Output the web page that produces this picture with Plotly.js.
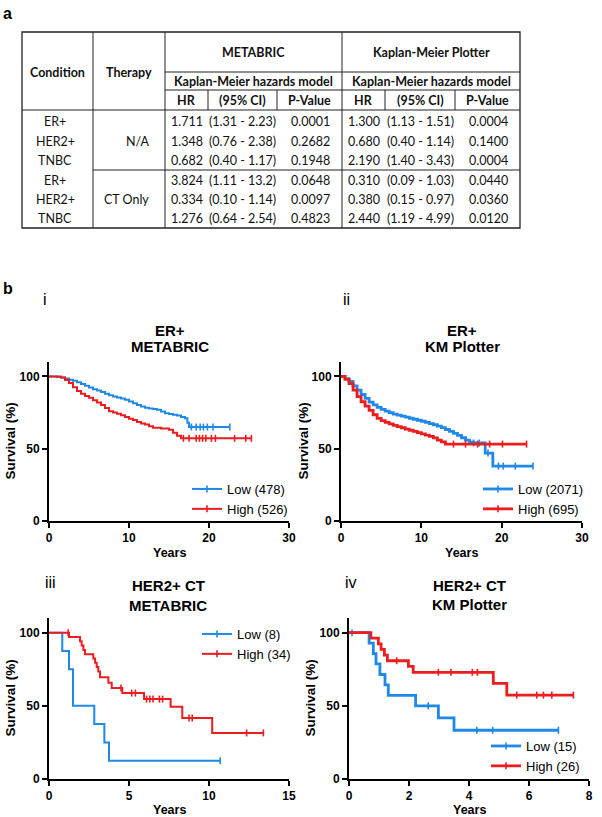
<!DOCTYPE html>
<html>
<head>
<meta charset="utf-8">
<script src="https://cdn.plot.ly/plotly-3.0.1.min.js"></script>
<style>html,body{margin:0;padding:0;background:#fff;}#chart{width:602px;height:817px;}</style>
</head>
<body>
<div id="chart"></div>
<script>
// ---------------- TABLE DATA ----------------
const tableConditions = ["ER+", "HER2+", "TNBC", "ER+", "HER2+", "TNBC"];
const tableTherapies = ["N/A", "CT Only"];
const metabricHR = ["1.711", "1.348", "0.682", "3.824", "0.334", "1.276"];
const metabricCI = ["(1.31 - 2.23)", "(0.76 - 2.38)", "(0.40 - 1.17)", "(1.11 - 13.2)", "(0.10 - 1.14)", "(0.64 - 2.54)"];
const metabricP = ["0.0001", "0.2682", "0.1948", "0.0648", "0.0097", "0.4823"];
const kmHR = ["1.300", "0.680", "2.190", "0.310", "0.380", "2.440"];
const kmCI = ["(1.13 - 1.51)", "(0.40 - 1.14)", "(1.40 - 3.43)", "(0.09 - 1.03)", "(0.15 - 0.97)", "(1.19 - 4.99)"];
const kmP = ["0.0004", "0.1400", "0.0004", "0.0440", "0.0360", "0.0120"];
const sourceHeaders = ["METABRIC", "Kaplan-Meier Plotter"];
const modelHeader = "Kaplan-Meier hazards model";
const statHeaders = ["HR", "(95% CI)", "P-Value"];

// ---------------- KM CURVES ----------------
// Panel i : ER+ METABRIC
const iLowT = [0, 0.5, 1, 1.5, 2, 2.5, 3, 3.5, 4, 4.5, 5, 5.5, 6, 6.5, 7, 7.5, 8, 8.5, 9, 9.5, 10, 10.5, 11, 11.5, 12, 12.5, 13, 13.5, 14, 14.5, 15, 15.5, 16, 16.5, 17, 17.3, 17.5, 22.6];
const iLowS = [100, 100, 99.6, 99.2, 98.5, 97.8, 97.0, 96.0, 94.8, 93.6, 92.4, 91.2, 90.2, 89.2, 88.0, 87.0, 86.2, 85.5, 84.8, 83.8, 82.6, 81.4, 80.2, 79.2, 78.4, 77.8, 77.4, 77.0, 75.8, 74.5, 74.0, 73.5, 73.0, 72.0, 71.0, 68.0, 65.0, 65.0];
const iLowCens = [17.8, 18.4, 18.9, 19.3, 19.8, 20.5, 22.6];
const iHighT = [0, 1, 1.5, 2, 2.5, 3, 3.5, 4, 4.5, 5, 5.5, 6, 6.5, 7, 7.5, 8, 8.5, 9, 9.5, 10, 10.5, 11, 11.5, 12, 12.5, 13, 14, 15, 15.5, 16, 16.5, 25.3];
const iHighS = [100, 100, 99.3, 97.5, 95.5, 92.5, 90.0, 88.0, 86.5, 85.2, 83.5, 82.0, 80.2, 78.2, 76.0, 75.0, 74.2, 73.2, 72.0, 70.8, 69.8, 68.5, 67.5, 66.8, 65.5, 64.5, 64.0, 63.2, 61.0, 59.0, 57.2, 57.2];
const iHighCens = [16.8, 17.5, 18.4, 18.8, 19.2, 19.6, 20.3, 20.8, 23.2, 24.6, 25.3];

// Panel ii : ER+ KM Plotter
const iiLowT = [0, 0.5, 1, 1.5, 2, 2.5, 3, 3.5, 4, 4.5, 5, 5.5, 6, 6.5, 7, 7.5, 8, 8.5, 9, 9.5, 10, 10.5, 11, 11.5, 12, 12.5, 13, 13.5, 14, 14.5, 15, 15.5, 16, 16.5, 17.95, 18.9, 23.9];
const iiLowS = [100, 98.5, 96.5, 93.5, 90.5, 87.5, 84.8, 82.3, 80.3, 78.6, 77.2, 76.0, 75.0, 74.0, 73.3, 72.5, 71.8, 71.1, 70.4, 69.7, 69.0, 68.2, 67.4, 66.6, 65.7, 64.6, 63.3, 62.0, 60.6, 59.2, 57.6, 56.0, 54.5, 54.0, 47.0, 38.0, 38.0];
const iiLowCens = [16.5, 17.2, 18.3, 19.6, 20.2, 21.7, 23.9];
const iiHighT = [0, 0.5, 1, 1.5, 2, 2.5, 3, 3.5, 4, 4.5, 5, 5.5, 6, 6.5, 7, 7.5, 8, 8.5, 9, 9.5, 10, 10.5, 11, 11.5, 12, 12.5, 13, 23.1];
const iiHighS = [100, 98.0, 95.0, 90.5, 86.0, 82.5, 79.5, 76.5, 73.5, 71.0, 69.5, 68.3, 67.2, 66.2, 65.3, 64.5, 63.6, 62.8, 62.0, 61.2, 60.3, 59.4, 58.6, 57.5, 56.0, 54.8, 53.2, 53.2];
const iiHighCens = [14.0, 15.5, 17.0, 18.5, 20.1, 23.1];

// Panel iii : HER2+ CT METABRIC
const iiiLowT = [0, 0.83, 1.25, 1.5, 2.83, 3.46, 3.75, 10.7];
const iiiLowS = [100, 87.5, 75.0, 50.0, 37.5, 25.0, 12.5, 12.5];
const iiiLowCens = [10.7];
const iiiHighT = [0, 1.25, 1.94, 2.04, 2.15, 2.25, 2.77, 2.88, 2.98, 3.08, 3.19, 3.71, 3.92, 4.58, 5.94, 7.6, 8.33, 10.2, 13.4];
const iiiHighS = [100, 97.1, 94.1, 91.2, 88.2, 85.3, 82.4, 79.4, 76.5, 73.5, 69.5, 65.8, 62.2, 58.7, 54.6, 49.3, 41.6, 31.5, 31.5];
const iiiHighCens = [1.2, 4.5, 5.17, 5.4, 6.1, 6.3, 6.5, 6.9, 7.1, 8.75, 8.95, 12.35, 13.4];

// Panel iv : HER2+ CT KM Plotter
const ivLowT = [0, 0.67, 0.81, 0.9, 1.03, 1.2, 1.31, 2.22, 2.98, 3.5, 6.98];
const ivLowS = [100, 92.9, 85.7, 78.6, 71.4, 64.3, 57.1, 50.0, 41.7, 33.3, 33.3];
const ivLowCens = [0.1, 2.64, 4.26, 4.79, 6.98];
const ivHighT = [0, 0.73, 0.98, 1.07, 1.18, 1.28, 1.98, 2.14, 4.81, 5.26, 7.48];
const ivHighS = [100, 96.2, 92.3, 88.5, 84.6, 80.8, 76.9, 72.9, 65.3, 57.3, 57.3];
const ivHighCens = [1.59, 2.98, 3.4, 4.11, 4.28, 5.59, 6.26, 6.48, 6.76, 7.48];

const panelLabels = ["i", "ii", "iii", "iv"];
const panelTitles = [["ER+", "METABRIC"], ["ER+", "KM Plotter"], ["HER2+ CT", "METABRIC"], ["HER2+ CT", "KM Plotter"]];
const lowNames = ["Low (478)", "Low (2071)", "Low (8)", "Low (15)"];
const highNames = ["High (526)", "High (695)", "High (34)", "High (26)"];
const xTicks = [[0, 10, 20, 30], [0, 10, 20, 30], [0, 5, 10, 15], [0, 2, 4, 6, 8]];
const yTicks = [0, 50, 100];

// ---------------- HELPERS ----------------
const W = 602, H = 817;
const PX = p => p / W;
const PY = p => 1 - p / H;
const BLUE = "#1f88e8", RED = "#ec1c1f";
const CHART_FONT = "Arial, 'Liberation Sans', sans-serif";
const TABLE_FONT = "Lato, 'Open Sans', sans-serif";

function survAt(ts, ss, c) {
  let v = ss[0];
  for (let k = 0; k < ts.length; k++) { if (ts[k] <= c) v = ss[k]; }
  return v;
}

const panels = [
  {ax: "", lowT: iLowT, lowS: iLowS, lowC: iLowCens, highT: iHighT, highS: iHighS, highC: iHighCens, lw: 2,
   xd: [49, 289], yd: [362, 521], xr: [0, 30], leg: [187, 474], lab: [41, 299], title: [170, 330, 347], ylab: 10, yrs: 553},
  {ax: "2", lowT: iiLowT, lowS: iiLowS, lowC: iiLowCens, highT: iiHighT, highS: iiHighS, highC: iiHighCens, lw: 2.8,
   xd: [341, 582], yd: [362, 521], xr: [0, 30], leg: [478, 474], lab: [341, 299], title: [462, 330, 347], ylab: 303, yrs: 553},
  {ax: "3", lowT: iiiLowT, lowS: iiiLowS, lowC: iiiLowCens, highT: iiiHighT, highS: iiiHighS, highC: iiiHighCens, lw: 2,
   xd: [49, 289], yd: [618, 779], xr: [0, 15], leg: [197, 619], lab: [43, 582], title: [168, 585, 605], ylab: 10, yrs: 809.5},
  {ax: "4", lowT: ivLowT, lowS: ivLowS, lowC: ivLowCens, highT: ivHighT, highS: ivHighS, highC: ivHighCens, lw: 2.8,
   xd: [349, 589], yd: [618, 779], xr: [0, 8], leg: [486, 731], lab: [343, 582], title: [469, 585, 604], ylab: 310, yrs: 809.5}
];

const traces = [];
const layout = {
  width: W, height: H,
  margin: {l: 0, r: 0, t: 0, b: 0},
  paper_bgcolor: "#fff", plot_bgcolor: "rgba(0,0,0,0)",
  showlegend: true,
  annotations: [], shapes: []
};

panels.forEach((p, idx) => {
  const xa = "x" + p.ax, ya = "y" + p.ax;
  const legName = "legend" + (idx === 0 ? "" : String(idx + 1));
  const series = [
    {t: p.lowT, s: p.lowS, c: p.lowC, color: BLUE, name: lowNames[idx]},
    {t: p.highT, s: p.highS, c: p.highC, color: RED, name: highNames[idx]}
  ];
  series.forEach(sr => {
    traces.push({
      type: "scatter", mode: "lines", x: sr.t, y: sr.s, xaxis: xa, yaxis: ya,
      line: {color: sr.color, width: p.lw, shape: "hv"}, showlegend: false, hoverinfo: "skip"
    });
    traces.push({
      type: "scatter", mode: "markers", x: sr.c, y: sr.c.map(c => survAt(sr.t, sr.s, c)),
      xaxis: xa, yaxis: ya, cliponaxis: false,
      marker: {symbol: "line-ns-open", size: 5, color: sr.color, line: {color: sr.color, width: 1.6}},
      showlegend: false, hoverinfo: "skip"
    });
  });
  series.forEach(sr => {
    traces.push({
      type: "scatter", mode: "lines+markers", x: [null], y: [null], xaxis: xa, yaxis: ya,
      name: sr.name, legend: legName,
      line: {color: sr.color, width: p.lw},
      marker: {symbol: "line-ns-open", size: 5, color: sr.color, line: {color: sr.color, width: 1.6}},
      hoverinfo: "skip"
    });
  });

  const axCommon = {
    showline: true, linecolor: "#000", linewidth: 2, ticks: "outside", ticklen: 5, tickwidth: 2,
    tickcolor: "#000", showgrid: false, zeroline: false, automargin: false, fixedrange: true,
    tickfont: {family: CHART_FONT, size: 12, color: "#000", weight: "bold"}
  };
  layout["xaxis" + p.ax] = Object.assign({}, axCommon, {
    domain: [PX(p.xd[0]), PX(p.xd[1])], range: p.xr, tickvals: xTicks[idx], anchor: ya
  });
  layout["yaxis" + p.ax] = Object.assign({}, axCommon, {
    domain: [PY(p.yd[1]), PY(p.yd[0])], range: [0, 110], tickvals: yTicks, anchor: xa
  });
  layout[legName] = {
    x: PX(p.leg[0]), y: PY(p.leg[1]), xanchor: "left", yanchor: "top",
    bgcolor: "rgba(0,0,0,0)", borderwidth: 0,
    font: {family: CHART_FONT, size: 13, color: "#000"}, itemwidth: 30
  };

  const ann = layout.annotations;
  ann.push({xref: "paper", yref: "paper", x: PX(p.lab[0]), y: PY(p.lab[1]), text: panelLabels[idx],
    showarrow: false, xanchor: "left", yanchor: "middle", font: {family: CHART_FONT, size: 16, color: "#000"}});
  ann.push({xref: "paper", yref: "paper", x: PX(p.title[0]), y: PY(p.title[1]), text: panelTitles[idx][0],
    showarrow: false, xanchor: "center", yanchor: "middle", font: {family: CHART_FONT, size: 15, color: "#000", weight: "bold"}});
  ann.push({xref: "paper", yref: "paper", x: PX(p.title[0]), y: PY(p.title[2]), text: panelTitles[idx][1],
    showarrow: false, xanchor: "center", yanchor: "middle", font: {family: CHART_FONT, size: 15, color: "#000", weight: "bold"}});
  ann.push({xref: "paper", yref: "paper", x: PX(p.ylab), y: PY((p.yd[0] + p.yd[1]) / 2), text: "Survival (%)",
    textangle: -90, showarrow: false, xanchor: "center", yanchor: "middle",
    font: {family: CHART_FONT, size: 13.5, color: "#000", weight: "bold"}});
  ann.push({xref: "paper", yref: "paper", x: PX((p.xd[0] + p.xd[1]) / 2), y: PY(p.yrs), text: "Years",
    showarrow: false, xanchor: "center", yanchor: "middle",
    font: {family: CHART_FONT, size: 12.5, color: "#000", weight: "bold"}});
});

// ---------------- TABLE (drawn with shapes + annotations) ----------------
const ann = layout.annotations, shp = layout.shapes;
const LC = "#222";
function hline(y, x0, x1, w) { shp.push({type: "line", xref: "paper", yref: "paper", x0: PX(x0), x1: PX(x1), y0: PY(y), y1: PY(y), line: {color: LC, width: w || 1}}); }
function vline(x, y0, y1, w) { shp.push({type: "line", xref: "paper", yref: "paper", x0: PX(x), x1: PX(x), y0: PY(y0), y1: PY(y1), line: {color: LC, width: w || 1}}); }
function txt(x, y, s, bold, size, anchor) {
  ann.push({xref: "paper", yref: "paper", x: PX(x), y: PY(y), text: s, showarrow: false,
    xanchor: anchor || "center", yanchor: "middle",
    font: {family: TABLE_FONT, size: size || 12, color: "#111", weight: bold ? "bold" : "normal"}});
}
const T = {x0: 22, x1: 520, y0: 32, y1: 228};
shp.push({type: "rect", xref: "paper", yref: "paper", x0: PX(T.x0), x1: PX(T.x1), y0: PY(T.y1), y1: PY(T.y0), line: {color: LC, width: 1.3}});
vline(93, T.y0, T.y1); vline(165, T.y0, T.y1); vline(342, T.y0, T.y1);
[208, 277, 385, 455].forEach(x => vline(x, 90, 110));
hline(72, 165, 520); hline(90, 165, 520); hline(110, 22, 520); hline(170, 93, 520);

txt(57.5, 72, "Condition", true, 12.5);
txt(129, 72, "Therapy", true, 12.5);
txt(253.5, 52, sourceHeaders[0], true, 12.5);
txt(431, 52, sourceHeaders[1], true, 12.5);
txt(253.5, 81, modelHeader, true, 12.5);
txt(431, 81, modelHeader, true, 12.5);
const statCols = [[186.5, 242.5, 309.5], [363.5, 420, 487.5]];
statCols.forEach(cols => cols.forEach((cx, k) => txt(cx, 100.5, statHeaders[k], true, 12.5)));
const rowY = [121, 141, 160.5, 180, 199.5, 219];
tableConditions.forEach((c, r) => txt(55, rowY[r], c, false, 12.5));
txt(137, rowY[1], tableTherapies[0], false, 12.5);
txt(126, rowY[4], tableTherapies[1], false, 12.5);
const colsData = [metabricHR, metabricCI, metabricP, kmHR, kmCI, kmP];
const colX = [186.5, 242.5, 310.5, 363.5, 420, 488];
colsData.forEach((arr, ci) => arr.forEach((v, r) => txt(colX[ci], rowY[r], v, false, 12.5)));

// figure letters
ann.push({xref: "paper", yref: "paper", x: PX(1), y: PY(14), text: "a", showarrow: false, xanchor: "left", yanchor: "middle",
  font: {family: CHART_FONT, size: 16, color: "#000", weight: "bold"}});
ann.push({xref: "paper", yref: "paper", x: PX(1), y: PY(288), text: "b", showarrow: false, xanchor: "left", yanchor: "middle",
  font: {family: CHART_FONT, size: 16, color: "#000", weight: "bold"}});

Plotly.newPlot("chart", traces, layout, {staticPlot: true, displayModeBar: false});
</script>
</body>
</html>
